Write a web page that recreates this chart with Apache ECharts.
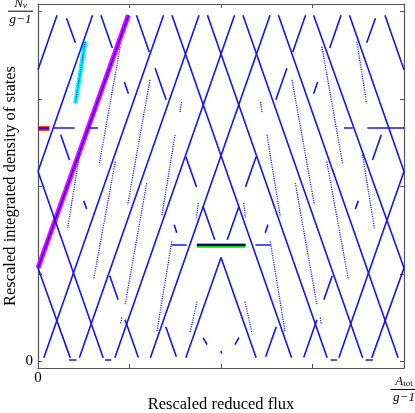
<!DOCTYPE html>
<html>
<head>
<meta charset="utf-8">
<script src="https://cdn.jsdelivr.net/npm/echarts@6/dist/echarts.min.js"></script>
<style>
  html, body { margin: 0; padding: 0; background: #fff; }
  #chart { width: 415px; height: 413px; }
</style>
</head>
<body>
<div id="chart"></div>
<script>
// every segment is [x1, y1, x2, y2] in axis units (reduced flux, density of states)

// levels rising with the flux
const risingLines = [
  [0.052, 0.99, 0, 0.834],
  [0.149, 0.99, 0, 0.543],
  [0.247, 0.99, 0, 0.267],
  [0.343, 0.99, 0.016, 0.01],
  [0.440, 0.99, 0.113, 0.01],
  [0.537, 0.99, 0.210, 0.01],
  [0.634, 0.99, 0.307, 0.01],
  [0.731, 0.99, 0.696, 0.885],
  [0.680, 0.838, 0.650, 0.748],
  [0.596, 0.585, 0.567, 0.499],
  [0.549, 0.443, 0.517, 0.348],
  [0.500, 0.297, 0.404, 0.01],
  [0.828, 0.99, 0.797, 0.896],
  [0.764, 0.799, 0.753, 0.765],
  [0.628, 0.391, 0.621, 0.368],
  [0.922, 0.981, 0.898, 0.911],
  [0.938, 0.648, 0.914, 0.576],
  [0.875, 0.459, 0.867, 0.436],
  [0.804, 0.245, 0.781, 0.176],
  [0.762, 0.119, 0.726, 0.011],
  [1, 0.543, 0.822, 0.01],
  [1, 0.267, 0.912, 0.01],
  [0.651, 0.099, 0.622, 0.013],
  [0.549, 0.068, 0.538, 0.048]
];

// levels falling with the flux
const fallingLines = [
  [0.948, 0.99, 1, 0.834],
  [0.851, 0.99, 1, 0.543],
  [0.753, 0.99, 1, 0.267],
  [0.657, 0.99, 0.984, 0.01],
  [0.560, 0.99, 0.887, 0.01],
  [0.463, 0.99, 0.790, 0.01],
  [0.366, 0.99, 0.693, 0.01],
  [0.269, 0.99, 0.304, 0.885],
  [0.320, 0.838, 0.350, 0.748],
  [0.404, 0.585, 0.433, 0.499],
  [0.451, 0.443, 0.483, 0.348],
  [0.500, 0.297, 0.596, 0.01],
  [0.172, 0.99, 0.203, 0.896],
  [0.236, 0.799, 0.247, 0.765],
  [0.372, 0.391, 0.379, 0.368],
  [0.078, 0.981, 0.102, 0.911],
  [0.062, 0.648, 0.086, 0.576],
  [0.125, 0.459, 0.133, 0.436],
  [0.196, 0.245, 0.219, 0.176],
  [0.238, 0.119, 0.274, 0.011],
  [0, 0.543, 0.178, 0.01],
  [0, 0.267, 0.088, 0.01],
  [0.349, 0.099, 0.378, 0.013],
  [0.451, 0.068, 0.462, 0.048],
  [0.500, 0.030, 0.502, 0.022]
];

// flat pieces
const flatLines = [
  [0, 0.668, 0.031, 0.668],
  [0.042, 0.668, 0.100, 0.668],
  [0.140, 0.668, 0.164, 0.668],
  [0.836, 0.668, 0.860, 0.668],
  [0.900, 0.668, 1.000, 0.668],
  [0.365, 0.333, 0.406, 0.333],
  [0.594, 0.333, 0.635, 0.333],
  [0.085, 0.006, 0.105, 0.006],
  [0.183, 0.006, 0.200, 0.006],
  [0.800, 0.006, 0.817, 0.006],
  [0.895, 0.006, 0.915, 0.006]
];

// thin dotted levels
const dottedLines = [
  [0.2245, 0.900, 0.168, 0.567], [0.7755, 0.900, 0.832, 0.567],
  [0.306, 0.805, 0.245, 0.448], [0.694, 0.805, 0.755, 0.448],
  [0.129, 0.914, 0.102, 0.738], [0.871, 0.914, 0.898, 0.738],
  [0.1135, 0.591, 0.081, 0.381], [0.8865, 0.591, 0.919, 0.381],
  [0.211, 0.571, 0.152, 0.234], [0.789, 0.571, 0.848, 0.234],
  [0.297, 0.510, 0.238, 0.162], [0.703, 0.510, 0.762, 0.162],
  [0.3745, 0.648, 0.338, 0.414], [0.6255, 0.648, 0.662, 0.414],
  [0.438, 0.453, 0.433, 0.411], [0.562, 0.453, 0.567, 0.411],
  [0.392, 0.742, 0.388, 0.713], [0.608, 0.742, 0.612, 0.713],
  [0.3655, 0.343, 0.325, 0.085], [0.6345, 0.343, 0.675, 0.085],
  [0.4345, 0.171, 0.4155, 0.082], [0.5655, 0.171, 0.5845, 0.082],
  [0.2286, 0.125, 0.2259, 0.105], [0.7714, 0.125, 0.7741, 0.105]
];

// highlighted paths (drawn under the level they mark)
const magentaPath = [[0.247, 0.99, 0, 0.267]];
const cyanPath = [[0.129, 0.914, 0.102, 0.738]];
const greenPath = [[0.434, 0.333, 0.567, 0.333]];
const redPath = [[0, 0.668, 0.031, 0.668]];

const tickValues = [0, 0.25, 0.5, 0.75, 1];
const labelValues = [0, 1];

const serif = '"Liberation Serif", "DejaVu Serif", serif';
const blue = '#1414f2';

const toLines = segs => segs.map(s => ({ coords: [[s[0], s[1]], [s[2], s[3]]] }));

const segSeries = (segs, style, z) => ({
  type: 'lines',
  coordinateSystem: 'cartesian2d',
  polyline: false,
  silent: true,
  z: z,
  data: toLines(segs),
  lineStyle: Object.assign({ opacity: 1, curveness: 0 }, style)
});

const fracRich = {
  z: { fontSize: 15, fontFamily: serif, color: '#000' },
  num: { fontSize: 13, fontFamily: serif, fontStyle: 'italic', color: '#000', align: 'center', lineHeight: 12 },
  sub: { fontSize: 9, fontFamily: serif, fontStyle: 'italic', color: '#000', align: 'center', verticalAlign: 'bottom', lineHeight: 12 },
  subr: { fontSize: 9, fontFamily: serif, color: '#000', align: 'center', verticalAlign: 'bottom', lineHeight: 12 },
  bar: { width: 25, height: 1, fontSize: 1, lineHeight: 3, backgroundColor: '#000', align: 'center' },
  den: { fontSize: 13, fontFamily: serif, fontStyle: 'italic', color: '#000', align: 'center', lineHeight: 13 }
};

const xRich = Object.assign({}, fracRich, {
  num: Object.assign({}, fracRich.num, { lineHeight: 17, verticalAlign: 'bottom' }),
  subr: Object.assign({}, fracRich.subr, { lineHeight: 17 }),
  bar: Object.assign({}, fracRich.bar, { width: 27 })
});

const frame = { show: true, onZero: false, lineStyle: { color: '#555', width: 1.2 } };
const ticks = { show: true, inside: true, length: 4, lineStyle: { color: '#555', width: 1 } };
const nameFont = { fontSize: 16.5, fontFamily: serif, color: '#000' };

const chart = echarts.init(document.getElementById('chart'), null, { renderer: 'canvas' });

chart.setOption({
  animation: false,
  backgroundColor: '#fff',
  grid: { left: 38, right: 11, top: 4, bottom: 45, containLabel: false, outerBoundsMode: 'none' },
  xAxis: [
    {
      type: 'value', min: 0, max: 1, interval: 0.25,
      position: 'bottom',
      name: 'Rescaled reduced flux',
      nameLocation: 'middle', nameGap: 28, nameMoveOverlap: false,
      nameTextStyle: nameFont,
      axisLine: frame, axisTick: ticks, splitLine: { show: false },
      axisLabel: {
        customValues: labelValues, margin: 3,
        formatter: v => v === 0 ? '{z|0}' : '{num|A}{subr|tot}\n{bar| }\n{den|g−1}',
        rich: xRich
      }
    },
    {
      type: 'value', min: 0, max: 1, interval: 0.25,
      position: 'top',
      axisLine: frame, axisTick: ticks, splitLine: { show: false },
      axisLabel: { show: false }
    }
  ],
  yAxis: [
    {
      type: 'value', min: -0.019, max: 1.022,
      position: 'left',
      name: 'Rescaled integrated density of states',
      nameLocation: 'middle', nameGap: 19, nameRotate: 90, nameMoveOverlap: false,
      nameTextStyle: nameFont,
      axisLine: frame,
      axisTick: Object.assign({ customValues: tickValues }, ticks),
      splitLine: { show: false },
      axisLabel: {
        customValues: labelValues, margin: 5,
        formatter: v => v === 0 ? '{z|0}' : '{num|N}{sub|v}\n{bar| }\n{den|g−1}',
        rich: fracRich
      }
    },
    {
      type: 'value', min: -0.019, max: 1.022,
      position: 'right',
      axisLine: frame,
      axisTick: Object.assign({ customValues: tickValues }, ticks),
      splitLine: { show: false },
      axisLabel: { show: false }
    }
  ],
  series: [
    segSeries(magentaPath, { color: '#ff00ff', width: 5 }, 1),
    segSeries(cyanPath, { color: '#00ffff', width: 4.5 }, 1),
    segSeries(greenPath, { color: '#00e000', width: 4.5 }, 1),
    segSeries(redPath, { color: '#ff0000', width: 4.5 }, 1),
    segSeries(dottedLines, { color: '#2323ff', width: 1.3, type: [1.2, 1.1] }, 2),
    segSeries(risingLines, { color: blue, width: 1.6 }, 3),
    segSeries(fallingLines, { color: blue, width: 1.6 }, 3),
    segSeries(flatLines, { color: blue, width: 1.6 }, 3),
    segSeries(greenPath, { color: '#000080', width: 1.8 }, 4)
  ]
});
</script>
</body>
</html>
